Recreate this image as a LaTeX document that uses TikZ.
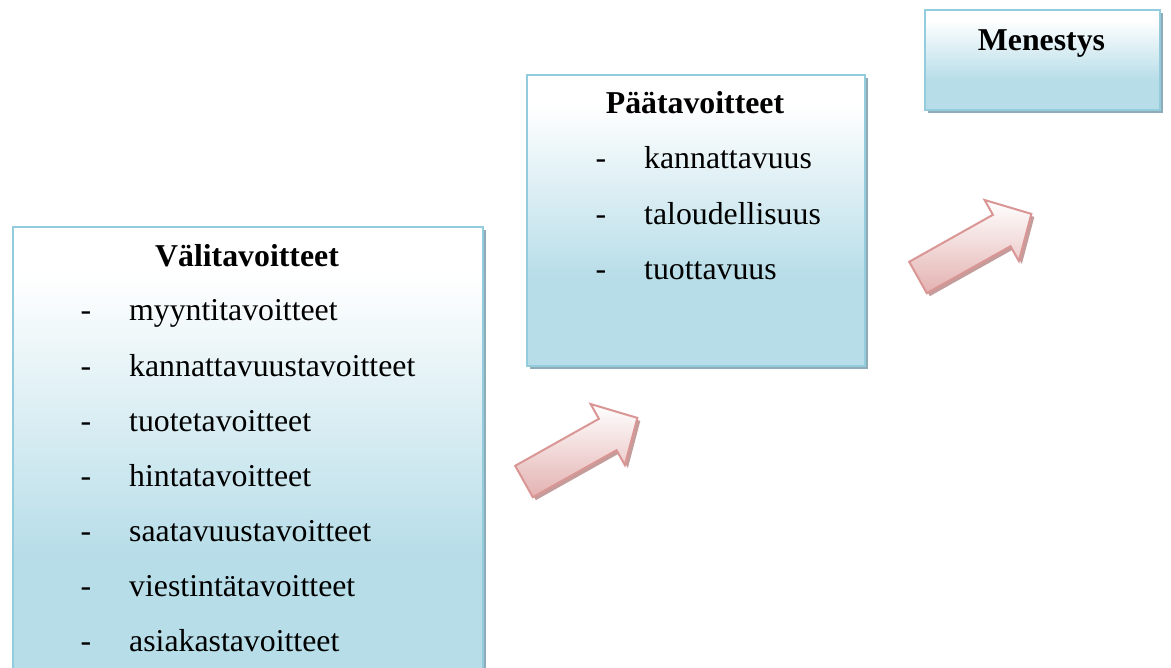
\documentclass[tikz,border=0pt]{standalone}
\usepackage{fontspec}
\setmainfont{Liberation Serif}
\usetikzlibrary{shadows}

\definecolor{boxblue}{HTML}{B7DDE8}
\definecolor{boxline}{HTML}{93CDDD}
\definecolor{boxshadow}{HTML}{8EACB7}
\definecolor{arrowpink}{HTML}{E3B2B1}
\definecolor{arrowline}{HTML}{D99694}
\definecolor{arrowshadow}{HTML}{C49C9B}

% white at the top, light blue over the lower part
\pgfdeclareverticalshading{boxshade}{100bp}{color(0bp)=(boxblue); color(40bp)=(boxblue); color(70bp)=(white); color(100bp)=(white)}

\begin{document}
\begin{tikzpicture}[x=1pt,y=-1pt,
  goalbox/.style={draw=boxline, line width=2pt, shading=boxshade,
    general shadow={fill=boxshadow, shadow xshift=3pt, shadow yshift=-3pt},
    anchor=north west, inner sep=0pt},
  boxtitle/.style={anchor=base, inner sep=0pt, font=\fontsize{31.8}{38}\selectfont\bfseries},
  boxitem/.style={anchor=base west, inner sep=0pt, font=\fontsize{31.8}{38}\selectfont},
  arrowbody/.style={draw=arrowline, line width=2pt, line join=miter, top color=white, bottom color=arrowpink},
  arrowshade/.style={fill=arrowshadow}
]
\path[use as bounding box, clip] (0,0) rectangle (1171,668);

% the three goal boxes
\node[goalbox, minimum width=470pt, minimum height=470pt] (vali) at (12,226) {};
\node[goalbox, minimum width=338pt, minimum height=291pt] (paa) at (526,74) {};
\node[goalbox, minimum width=235pt, minimum height=100pt] (menestys) at (924,9) {};

% intermediate goals
\node[boxtitle] (valititle) at (247,267) {Välitavoitteet};
\foreach \t [count=\i] in {myyntitavoitteet, kannattavuustavoitteet, tuotetavoitteet,
    hintatavoitteet, saatavuustavoitteet, viestintätavoitteet, asiakastavoitteet} {
  \node[boxitem] (validash\i) at (80.5,{321+55.1*(\i-1)}) {-};
  \node[boxitem] (valiitem\i) at (129,{321+55.1*(\i-1)}) {\t};
}

% main goals
\node[boxtitle] (paatitle) at (695,114) {Päätavoitteet};
\foreach \t [count=\i] in {kannattavuus, taloudellisuus, tuottavuus} {
  \node[boxitem] (paadash\i) at (595.5,{169+55.5*(\i-1)}) {-};
  \node[boxitem] (paaitem\i) at (644,{169+55.5*(\i-1)}) {\t};
}

% success
\node[boxtitle] (menestystitle) at (1041.5,51) {Menestys};

% block arrows between the stages, each with its shadow
\foreach \ax/\ay in {524/481.5, 918/277.5} {
  \path[arrowshade, shift={(\ax+3,\ay+3)}, rotate=29.3]
    (0,-18) -- (96,-18) -- (96,-35) -- (130,0) -- (96,35) -- (96,18) -- (0,18) -- cycle;
  \path[arrowbody, shift={(\ax,\ay)}, rotate=29.3]
    (0,-18) -- (96,-18) -- (96,-35) -- (130,0) -- (96,35) -- (96,18) -- (0,18) -- cycle;
}
\end{tikzpicture}
\end{document}
